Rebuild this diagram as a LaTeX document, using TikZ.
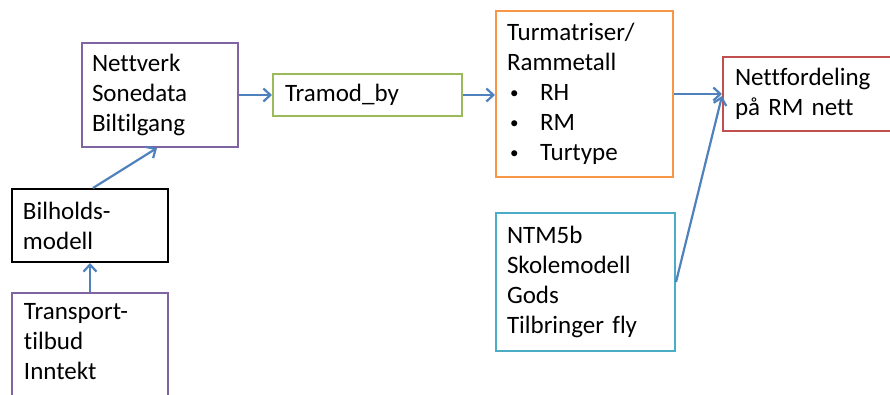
\documentclass[tikz,border=0pt]{standalone}
\usepackage{fontspec}
\setmainfont{Carlito}[Ligatures={NoCommon}]
\usetikzlibrary{arrows.meta}
\definecolor{cpurple}{HTML}{8064A2}
\definecolor{cgreen}{HTML}{9BBB59}
\definecolor{corange}{HTML}{F79646}
\definecolor{cred}{HTML}{C0504D}
\definecolor{ccyan}{HTML}{4BACC6}
\definecolor{cblue}{HTML}{4F81BD}
\newcommand{\itm}[1]{\makebox[33bp][l]{\hspace{3bp}\raisebox{2bp}{\fontsize{17bp}{17bp}\selectfont •}}#1}
\tikzset{
  box/.style={draw, line width=2bp, rectangle, inner xsep=0bp, inner ysep=2bp,
    align=left, font=\fontsize{25bp}{30bp}\selectfont, fill=white},
  conn/.style={draw=cblue, line width=2.2bp, -{Straight Barb[length=7bp,width=13bp]}},
}
\begin{document}
\begin{tikzpicture}[x=1bp, y=-1bp]
\useasboundingbox (0,0) rectangle (890,394);
\clip (0,0) rectangle (890,394);
\fill[white] (0,0) rectangle (890,394);
% boxes
\node[box, draw=cpurple, minimum width=156bp, minimum height=104bp, text width=136bp] (nett) at (160,95)
  {Nettverk\\Sonedata\\Biltilgang};
\node[box, draw=black, minimum width=156bp, minimum height=73bp, text width=134bp] (bil) at (90,225.5)
  {Bilholds-\\modell};
\node[box, draw=cpurple, minimum width=156bp, minimum height=120bp, text width=132bp, text depth=83bp] (trans) at (90,353)
  {Transport-\\tilbud\\Inntekt};
\node[box, draw=cgreen, minimum width=189bp, minimum height=42bp, text width=165bp] (tramod) at (367.5,95)
  {Tramod\_by};
\node[box, draw=corange, minimum width=177bp, minimum height=166bp, text width=155bp] (tur) at (584.5,94)
  {Turmatriser/\\Rammetall\\\itm{RH}\\\itm{RM}\\\itm{Turtype}};
\node[box, draw=cred, minimum width=190bp, minimum height=74bp, text width=166bp] (nf) at (818,94)
  {Nettfordeling\\på RM nett};
\node[box, draw=ccyan, minimum width=179bp, minimum height=138bp, text width=157bp] (ntm) at (585.5,282)
  {NTM5b\\Skolemodell\\Gods\\Tilbringer fly};
% connectors
\draw[conn] (nett.east) -- (tramod.west);
\draw[conn] (tramod.east) -- (tramod.east -| tur.west);
\draw[conn] (tur.east) -- (nf.west);
\draw[conn] (ntm.east) -- ([yshift=-2bp]nf.west);
\draw[conn] ([xshift=3bp]bil.north) -- ([xshift=-3bp]nett.south);
\draw[conn] (trans.north) -- (bil.south);
\end{tikzpicture}
\end{document}
